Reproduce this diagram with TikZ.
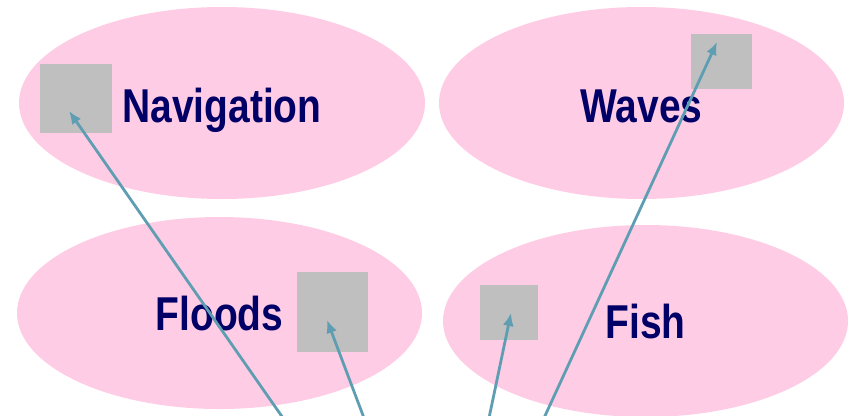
\documentclass[tikz,border=0pt]{standalone}
\usepackage{fontspec}
\newfontfamily\lblfont[FakeStretch=0.82]{Liberation Sans Bold}
\usetikzlibrary{shapes.geometric,arrows.meta}
\definecolor{blobpink}{RGB}{255,204,229}
\definecolor{boxgray}{RGB}{191,191,191}
\definecolor{labelnavy}{RGB}{0,0,102}
\definecolor{linkteal}{RGB}{95,158,178}
\tikzset{
  blob/.style={ellipse, fill=blobpink, draw=none, inner sep=0pt},
  greybox/.style={fill=boxgray, draw=none, inner sep=0pt},
  lbl/.style={anchor=base, inner sep=0pt, text=labelnavy, font=\lblfont\fontsize{47.5}{50}\selectfont},
  link/.style={draw=linkteal, line width=2.8pt, -{Latex[length=13pt,width=11pt]}}
}
\begin{document}
\begin{tikzpicture}[x=1pt,y=-1pt]
\useasboundingbox (0,0) rectangle (853,415);
% ellipses
\node[blob, minimum width=406pt, minimum height=192pt] (navE) at (222,103) {};
\node[blob, minimum width=405pt, minimum height=192pt] (wavE) at (641.5,103) {};
\node[blob, minimum width=405pt, minimum height=192pt] (floE) at (219.5,313) {};
\node[blob, minimum width=405pt, minimum height=192pt] (fisE) at (645.5,321) {};
% grey squares
\node[greybox, minimum width=72pt, minimum height=69pt] (navS) at (76,98.5) {};
\node[greybox, minimum width=61pt, minimum height=55pt] (wavS) at (721.5,61.5) {};
\node[greybox, minimum width=71pt, minimum height=80pt] (floS) at (332.5,312) {};
\node[greybox, minimum width=58pt, minimum height=55pt] (fisS) at (509,312.5) {};
% labels
\node[lbl] (navT) at (222,122) {Navigation};
\node[lbl] (wavT) at (641.5,122) {Waves};
\node[lbl] (floT) at (219.5,330) {Floods};
\node[lbl] (fisT) at (645.5,338) {Fish};
% connector ends
\coordinate (navA) at (283,418);
\coordinate (navB) at (69,111);
\coordinate (wavA) at (544,418);
\coordinate (wavB) at (717,42);
\coordinate (floA) at (364,418);
\coordinate (floB) at (327,320);
\coordinate (fisA) at (489,418);
\coordinate (fisB) at (511,313);
% connectors
\draw[link] (navA) -- (navB);
\draw[link] (wavA) -- (wavB);
\draw[link] (floA) -- (floB);
\draw[link] (fisA) -- (fisB);
\end{tikzpicture}
\end{document}
